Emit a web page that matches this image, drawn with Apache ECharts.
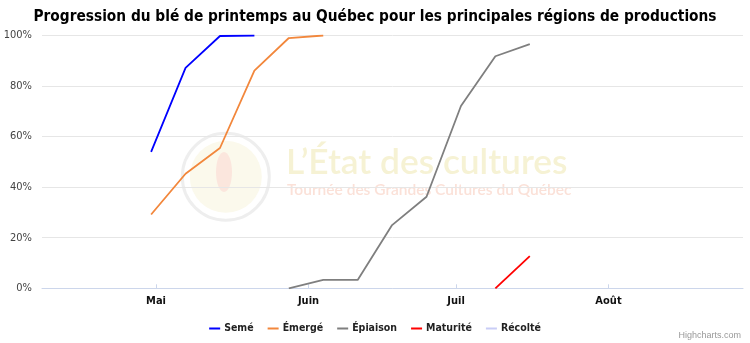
<!DOCTYPE html>
<html><head><meta charset="utf-8">
<script src="https://cdn.jsdelivr.net/npm/echarts@6/dist/echarts.min.js"></script>
<style>html,body{margin:0;padding:0;background:#fff}#c{width:750px;height:343px}</style>
</head><body><div id="c"></div>
<script>
const titleText = 'Progression du blé de printemps au Québec pour les principales régions de productions';
const dates = ['2019-04-30','2019-05-07','2019-05-14','2019-05-21','2019-05-28','2019-06-04','2019-06-11','2019-06-18','2019-06-25','2019-07-02','2019-07-09','2019-07-16'];
const seme      = [54, 87.2, 99.8, 100, null, null, null, null, null, null, null, null];
const emerge    = [29.2, 45.3, 55.5, 86.1, 99, 100, null, null, null, null, null, null];
const epiaison  = [null, null, null, null, 0, 3.3, 3.3, 25, 36.2, 72.1, 91.8, 96.6];
const maturite  = [null, null, null, null, null, null, null, null, null, null, 0, 12.7];
const recolte   = [null, null, null, null, null, null, null, null, null, null, null, null];
const seriesNames = ['Semé', 'Émergé', 'Épiaison', 'Maturité', 'Récolté'];
const seriesColors = ['#0000ff', '#f2873c', '#7f7f7f', '#ff0000', '#c9cdf6'];
const monthTicks = ['2019-05-01','2019-06-01','2019-07-01','2019-08-01'];
const monthLabels = ['Mai', 'Juin', 'Juil', 'Août'];
const yTicks = [0, 20, 40, 60, 80, 100];

const CF = '"DejaVu Sans Condensed", "DejaVu Sans", sans-serif';
function ts(s){ const p = s.split('-').map(Number); return Date.UTC(p[0], p[1]-1, p[2]); }
function pairs(vals){ const out=[]; vals.forEach((v,i)=>{ if(v!==null) out.push([ts(dates[i]), v]); }); return out; }
const allVals = [seme, emerge, epiaison, maturite, recolte];
const tickTs = monthTicks.map(ts);

const chart = echarts.init(document.getElementById('c'), null, {renderer:'canvas'});
chart.setOption({
  animation: false,
  backgroundColor: '#fff',
  title: {
    text: titleText, left: 'center', top: 5,
    textStyle: {fontFamily: CF, fontWeight: 'bold', fontSize: 15.3, color: '#000'}
  },
  grid: {left: 42, right: 7, top: 35.5, bottom: 54.7, containLabel: false},
  graphic: [
    {type:'circle', z:0, shape:{cx:225.8, cy:176.7, r:43.5}, style:{fill:'#fff', stroke:'#eeeeee', lineWidth:3}},
    {type:'circle', z:0, shape:{cx:225.8, cy:176.7, r:36}, style:{fill:'#fbf9ec', stroke:null}},
    {type:'ellipse', z:0, shape:{cx:224, cy:172, rx:8, ry:20}, style:{fill:'#fbe6dd', stroke:null}},
    {type:'text', z:0, left:286, top:145, style:{text:'L\u2019État des cultures', font:'600 35.3px Lato', fill:'#f6f2d4'}},
    {type:'text', z:0, left:287, top:182, style:{text:'Tournée des Grandes Cultures du Québec', font:'600 15.5px Lato', fill:'#fbe1d8'}},
    {type:'text', z:0, right:9, top:331, style:{text:'Highcharts.com', font:'9px Liberation Sans', fill:'#999'}}
  ],
  legend: {
    left: 'center', top: 318, itemWidth: 11, itemHeight: 2, itemGap: 14,
    icon: 'rect',
    textStyle: {fontFamily: CF, fontWeight: 'bold', fontSize: 10.5, color: '#222', padding: [0, 0, 0, -1]},
    data: seriesNames
  },
  xAxis: {
    type: 'value', min: Date.UTC(2019,3,7,19,30), max: Date.UTC(2019,7,28,8,24),
    axisLine: {show: true, lineStyle: {color: '#ccd6eb', width: 1}},
    axisTick: {show: true, customValues: tickTs, length: 4, inside: true, lineStyle: {color: '#ccd6eb'}},
    splitLine: {show: false},
    axisLabel: {
      customValues: tickTs, margin: 7,
      fontFamily: CF, fontWeight: 'bold', fontSize: 11, color: '#111',
      formatter: function(v){ const i = tickTs.indexOf(v); return i>=0 ? monthLabels[i] : ''; }
    }
  },
  yAxis: {
    type: 'value', min: 0, max: 100, interval: 20,
    axisLine: {show: false}, axisTick: {show: false},
    splitLine: {lineStyle: {color: '#e6e6e6', width: 1}},
    axisLabel: {margin: 10, fontFamily: CF, fontSize: 11, color: '#444', formatter: '{value}%'}
  },
  series: seriesNames.map((n,i)=>({
    name: n, type: 'line', z: 2, data: pairs(allVals[i]), showSymbol: false, symbol: 'none',
    color: seriesColors[i], lineStyle: {width: 1.8, color: seriesColors[i]}
  }))
});
</script></body></html>
